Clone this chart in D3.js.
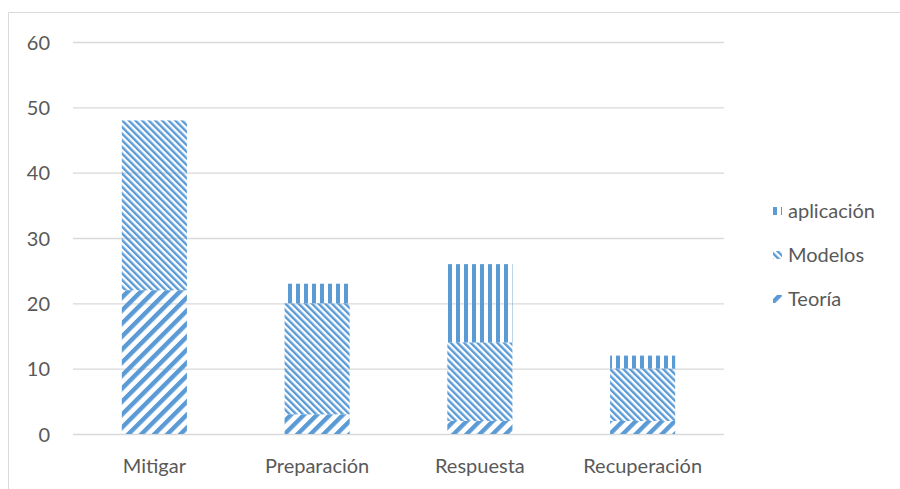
<!DOCTYPE html>
<html>
<head>
<meta charset="utf-8">
<script src="https://cdn.jsdelivr.net/npm/d3@7"></script>
<style>
body { margin: 0; background: #fff; }
text { font-family: Lato, "Open Sans", sans-serif; fill: #595959; }
</style>
</head>
<body>
<svg id="chart" width="900" height="489"></svg>
<script>
// data
var categories = ["Mitigar", "Preparación", "Respuesta", "Recuperación"];
var teoria = [22, 3, 2, 2];
var modelos = [26, 17, 12, 8];
var aplicacion = [0, 3, 12, 2];
var seriesNames = ["Teoría", "Modelos", "aplicación"];
var yTicks = [0, 10, 20, 30, 40, 50, 60];

var blue = "#5b9bd5";
var svg = d3.select("#chart");

// outer frame (only top + left visible)
svg.append("path").attr("d", "M8.5,489 V12.5 H900").attr("fill", "none").attr("stroke", "#d9d9d9");

// patterns
var defs = svg.append("defs");
var pV = defs.append("pattern").attr("id", "pat-aplicacion").attr("patternUnits", "userSpaceOnUse")
  .attr("width", 8).attr("height", 8);
pV.append("rect").attr("x", 0).attr("y", 0).attr("width", 4).attr("height", 8).attr("fill", blue);

var pM = defs.append("pattern").attr("id", "pat-modelos").attr("patternUnits", "userSpaceOnUse")
  .attr("width", 4.7).attr("height", 4.7).attr("patternTransform", "rotate(-45)");
pM.append("rect").attr("x", 0).attr("y", 0).attr("width", 2.4).attr("height", 4.7).attr("fill", blue);

var pT = defs.append("pattern").attr("id", "pat-teoria").attr("patternUnits", "userSpaceOnUse")
  .attr("width", 9.2).attr("height", 9.2).attr("patternTransform", "rotate(45)");
pT.append("rect").attr("x", 0).attr("y", 0).attr("width", 4.4).attr("height", 9.2).attr("fill", blue);

var fills = ["url(#pat-teoria)", "url(#pat-modelos)", "url(#pat-aplicacion)"];

var x = d3.scaleBand().domain(categories).range([73, 724]).paddingInner(0.6).paddingOuter(0.3);
var y = d3.scaleLinear().domain([0, 60]).range([434, 42]);

// gridlines
svg.append("g").selectAll("line").data(yTicks).join("line")
  .attr("x1", 73).attr("x2", 724)
  .attr("y1", function(d){ return y(d) + 0.5; }).attr("y2", function(d){ return y(d) + 0.5; })
  .attr("stroke", "#d9d9d9").attr("stroke-width", 1.3);

// y labels
var yAxis = svg.append("g").attr("transform", "translate(50,0)")
  .call(d3.axisLeft(y).tickValues(yTicks).tickSize(0).tickPadding(0));
yAxis.select(".domain").remove();
yAxis.selectAll("text").attr("font-size", 20).attr("dy", "0.35em");

// stacked bars
var rows = categories.map(function(c, i){
  return {cat: c, Teoría: teoria[i], Modelos: modelos[i], aplicación: aplicacion[i]};
});
var stack = d3.stack().keys(seriesNames)(rows);

svg.append("g").selectAll("g").data(stack).join("g")
  .attr("fill", function(d, i){ return fills[i]; })
  .selectAll("rect").data(function(d){ return d; }).join("rect")
  .attr("x", function(d){ return x(d.data.cat); })
  .attr("width", x.bandwidth())
  .attr("y", function(d){ return y(d[1]); })
  .attr("height", function(d){ return y(d[0]) - y(d[1]); });

// x labels
var xAxis = svg.append("g").attr("transform", "translate(0,466)")
  .call(d3.axisBottom(x).tickSize(0).tickPadding(0));
xAxis.select(".domain").remove();
xAxis.selectAll("text").attr("font-size", 20).attr("dy", "0.35em");

// legend (reverse order, aplicación on top)
var legendY = [211, 255, 299];
var leg = svg.append("g").selectAll("g").data(seriesNames.slice().reverse()).join("g")
  .attr("transform", function(d, i){ return "translate(773," + legendY[i] + ")"; });
leg.append("rect").attr("x", 0).attr("y", -4).attr("width", 9).attr("height", 8)
  .attr("fill", function(d){ return fills[seriesNames.indexOf(d)]; });
leg.append("text").attr("x", 15).attr("dy", "0.35em").attr("font-size", 20).text(function(d){ return d; });
</script>
</body>
</html>
